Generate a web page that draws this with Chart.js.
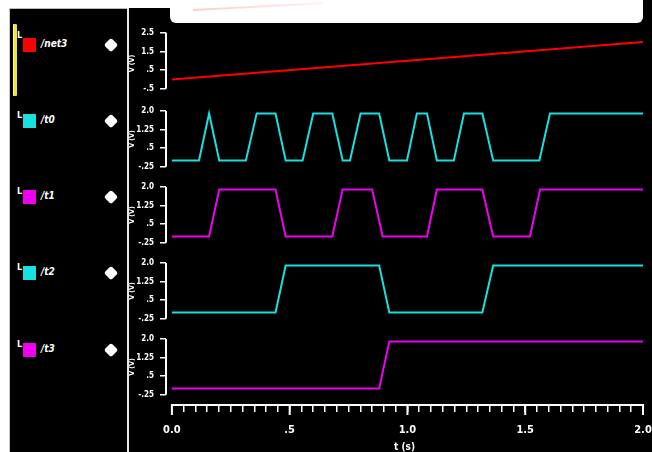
<!DOCTYPE html>
<html>
<head>
<meta charset="utf-8">
<script src="https://cdn.jsdelivr.net/npm/chart.js@4"></script>
<style>
  html, body { margin: 0; padding: 0; background: #fff; width: 652px; height: 452px; overflow: hidden; }
  body { position: relative; font-family: 'Liberation Sans Narrow', 'DejaVu Sans Condensed', sans-serif; }
  .abs { position: absolute; }
  #panel { left: 10px; top: 8px; width: 642px; height: 444px; background: #000; }
  #corner { left: 643px; top: 0; width: 9px; height: 8px; background: #000; }
  #leftEdge { left: 9px; top: 8px; width: 1px; height: 444px; background: #c8c8c8; }
  #topEdge { left: 10px; top: 8px; width: 118px; height: 1px; background: #bbb; }
  #divider { left: 127px; top: 8px; width: 2px; height: 444px; background: #e8e8e8; }
  #whiteBox { left: 170px; top: 0; width: 473px; height: 23px; background: #fff; border-radius: 0 0 6px 6px; }
  #streak { left: 193px; top: 9px; width: 130px; height: 2px; background: linear-gradient(to right, rgba(255,110,110,.35), rgba(255,160,160,.15)); transform: rotate(-3deg); transform-origin: left center; }
  #yellow { left: 13px; top: 24px; width: 3px; height: 72px; background: #f2e233; border-left: 1px solid #fff6c0; border-radius: 1px; }
  .L { color: #fff; font-size: 9px; font-weight: bold; left: 17px; }
  .sq { left: 23px; width: 13px; height: 14px; }
  .name { color: #fff; font-size: 10px; font-weight: bold; font-style: italic; left: 41px; }
  .dia { left: 106px; width: 10px; height: 10px; background: #fff; transform: rotate(45deg); border-radius: 2px; }
  #chart { left: 129px; top: 24px; }
</style>
</head>
<body>
<div id="panel" class="abs"></div>
<div id="corner" class="abs"></div>
<div id="leftEdge" class="abs"></div>
<div id="topEdge" class="abs"></div>
<div id="divider" class="abs"></div>
<div id="whiteBox" class="abs"></div>
<div id="streak" class="abs"></div>
<div id="yellow" class="abs"></div>
<div id="signals"></div>
<canvas id="chart" class="abs" width="523" height="428"></canvas>
<script>
// signal names and colours (top to bottom)
const signalNames = ['/net3', '/t0', '/t1', '/t2', '/t3'];
const signalColors = ['#ff0000', '#19e0e0', '#f000f0', '#19e0e0', '#f000f0'];
const rowCenters = [45, 121, 197, 273, 350];

// waveforms (time, volts)
const HI = 1.9;
const net3Times = [0, 2.0];
const net3Values = [0, 2.0];
const t0Times = [0, 0.115, 0.158, 0.201, 0.314, 0.360, 0.440, 0.483, 0.555, 0.600, 0.681, 0.725, 0.756, 0.801,
                 0.880, 0.923, 0.998, 1.040, 1.083, 1.125, 1.197, 1.240, 1.318, 1.364, 1.560, 1.605, 2.0];
const t0Values = [0, 0, HI, 0, 0, HI, HI, 0, 0, HI, HI, 0, 0, HI, HI, 0, 0, HI, HI, 0, 0, HI, HI, 0, 0, HI, HI];
const t1Times = [0, 0.158, 0.201, 0.440, 0.483, 0.681, 0.725, 0.850, 0.895, 1.083, 1.125, 1.318, 1.364, 1.520, 1.563, 2.0];
const t1Values = [0, 0, HI, HI, 0, 0, HI, HI, 0, 0, HI, HI, 0, 0, HI, HI];
const t2Times = [0, 0.440, 0.483, 0.880, 0.923, 1.318, 1.364, 2.0];
const t2Values = [0, 0, HI, HI, 0, 0, HI, HI];
const t3Times = [0, 0.880, 0.923, 2.0];
const t3Values = [0, 0, HI, HI];

// axis ticks
const xLabelValues = [0, 0.5, 1.0, 1.5, 2.0];
const xLabelText = ['0.0', '.5', '1.0', '1.5', '2.0'];
const net3AxisTicks = [-0.5, 0, 0.5, 1, 1.5, 2, 2.5];
const net3AxisLabels = ['-.5', '', '.5', '', '1.5', '', '2.5'];
const digAxisTicks = [-0.25, 0, 0.25, 0.5, 0.75, 1, 1.25, 1.5, 1.75, 2.0];
const digAxisLabels = ['-.25', '', '', '.5', '', '', '1.25', '', '', '2.0'];

// left name panel
const sigDiv = document.getElementById('signals');
signalNames.forEach((n, i) => {
  const c = rowCenters[i];
  sigDiv.insertAdjacentHTML('beforeend',
    `<div class="abs L" style="top:${c - (i === 0 ? 15 : 11)}px">L</div>` +
    `<div class="abs sq" style="top:${c - 7}px;background:${signalColors[i]}"></div>` +
    `<div class="abs name" style="top:${c - 7}px">${n}</div>` +
    `<div class="abs dia" style="top:${c - 5}px"></div>`);
});

const pts = (ts, vs) => ts.map((t, i) => ({x: t, y: vs[i]}));
const fontFam = "'Liberation Sans Narrow', 'DejaVu Sans Condensed', sans-serif";

const xTicks = [];
for (let i = 0; i <= 40; i++) xTicks.push(i * 0.05);

function yScale(weight, stackWeight, min, max, tickVals, tickLabels) {
  return {
    type: 'linear', position: 'left', stack: 'sig', stackWeight: stackWeight, weight: weight,
    min: min, max: max,
    afterBuildTicks: s => { s.ticks = tickVals.map(v => ({value: v})); },
    afterFit: s => { s.width = 37; s.paddingTop = 0; s.paddingBottom = 0; s.paddingLeft = 0; s.paddingRight = 0; },
    border: {display: false},
    grid: {display: true, drawOnChartArea: false, color: '#fff', tickLength: 6, lineWidth: 1.5},
    ticks: {color: '#fff', padding: 6, font: {size: 8, weight: 'bold', family: fontFam},
            callback: (v, i) => tickLabels[i]},
    title: {display: true, text: 'V (V)', color: '#fff', padding: 0,
            font: {size: 7, weight: 'bold', family: fontFam, lineHeight: 1}}
  };
}

const axisLines = {
  id: 'axisLines',
  afterDraw(chart) {
    const ctx = chart.ctx;
    ctx.save();
    ctx.strokeStyle = '#fff';
    ctx.lineWidth = 2;
    for (const s of Object.values(chart.scales)) {
      const vals = s.ticks.map(t => t.value);
      const a = s.getPixelForValue(Math.min(...vals));
      const b = s.getPixelForValue(Math.max(...vals));
      ctx.beginPath();
      if (s.isHorizontal()) {
        ctx.moveTo(a - 1, s.top); ctx.lineTo(b + 1, s.top);
        xLabelValues.forEach(v => {
          const p = s.getPixelForValue(v);
          ctx.moveTo(p, s.top); ctx.lineTo(p, s.top + 10);
        });
      } else {
        ctx.moveTo(s.right, a); ctx.lineTo(s.right, b);
      }
      ctx.stroke();
    }
    ctx.restore();
  }
};

const lineDs = (ts, vs, color, axis) => ({
  data: pts(ts, vs), borderColor: color, borderWidth: 2, pointRadius: 0, tension: 0, fill: false, yAxisID: axis
});

new Chart(document.getElementById('chart'), {
  type: 'line',
  data: {
    datasets: [
      lineDs(net3Times, net3Values, signalColors[0], 'y0'),
      lineDs(t0Times, t0Values, signalColors[1], 'y1'),
      lineDs(t1Times, t1Values, signalColors[2], 'y2'),
      lineDs(t2Times, t2Values, signalColors[3], 'y3'),
      lineDs(t3Times, t3Values, signalColors[4], 'y4')
    ]
  },
  options: {
    responsive: false,
    animation: false,
    layout: {padding: {top: 2, right: 9, left: 0, bottom: 0}},
    plugins: {legend: {display: false}, tooltip: {enabled: false}},
    scales: {
      x: {
        type: 'linear', position: 'bottom', min: -0.025, max: 2.0,
        afterBuildTicks: s => { s.ticks = xTicks.map(v => ({value: v})); },
        afterFit: s => { s.height = 47; s.paddingLeft = 0; s.paddingRight = 0; },
        border: {display: false},
        grid: {display: true, drawOnChartArea: false, color: '#fff', tickLength: 7, lineWidth: 1.5},
        ticks: {color: '#fff', padding: 12, autoSkip: false, maxRotation: 0, minRotation: 0,
                font: {size: 11, weight: 'bold', family: fontFam},
                callback: v => {
                  const k = xLabelValues.findIndex(l => Math.abs(l - v) < 1e-6);
                  return k >= 0 ? xLabelText[k] : '';
                }},
        title: {display: true, text: 't (s)', color: '#fff', padding: 0,
                font: {size: 10, weight: 'bold', family: fontFam, lineHeight: 1}}
      },
      y0: yScale(5, 75, -1.15, 2.86, net3AxisTicks, net3AxisLabels),
      y1: yScale(4, 76, -0.668, 2.409, digAxisTicks, digAxisLabels),
      y2: yScale(3, 76, -0.668, 2.409, digAxisTicks, digAxisLabels),
      y3: yScale(2, 76, -0.668, 2.409, digAxisTicks, digAxisLabels),
      y4: yScale(1, 76, -0.668, 2.409, digAxisTicks, digAxisLabels)
    }
  },
  plugins: [axisLines]
});
</script>
</body>
</html>
